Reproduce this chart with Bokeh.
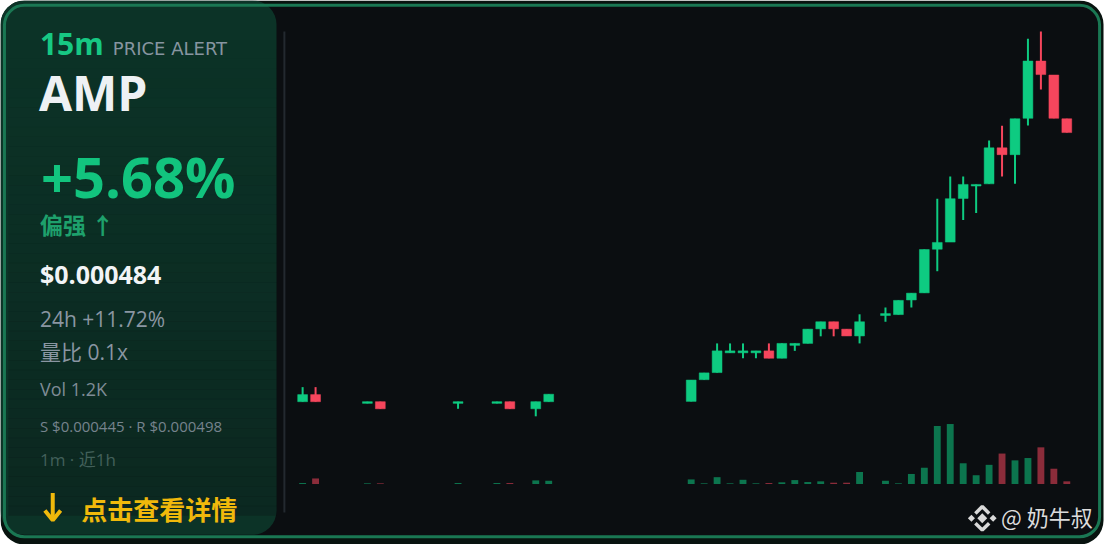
import numpy as np
from bokeh.plotting import figure
from bokeh.models import Range1d, Label, BoxAnnotation, ColumnDataSource
from bokeh.embed import file_html
from bokeh.resources import INLINE

# 1m candles of the last hour, slot = minute index (missing slots had no trades)
# prices in 1e-6 USD
slot = [0, 1, 5, 6, 12, 15, 16, 18, 19,
        30, 31, 32, 33, 34, 35, 36, 37, 38, 39, 40, 41, 42, 43,
        45, 46, 47, 48, 49, 50, 51, 52, 53, 54, 55, 56, 57, 58, 59]
opens = [446.88, 447.86, 446.65, 446.88, 446.65, 446.65, 446.88, 445.90, 446.88,
         446.92, 449.92, 450.90, 453.63, 453.63, 453.63, 453.90, 452.88, 454.66, 454.93,
         456.94, 457.92, 456.90, 455.96,
         458.78, 458.91, 460.93, 461.91, 467.94, 468.92, 474.96, 476.67, 476.97, 481.94,
         481.00, 486.02, 493.93, 492.00, 485.96]
highs = [448.89, 448.89, 446.88, 446.88, 446.88, 446.88, 446.88, 446.88, 447.91,
         449.87, 450.86, 454.93, 454.93, 454.93, 453.90, 454.93, 454.93, 454.93, 456.90,
         457.92, 457.92, 456.90, 458.95,
         459.89, 460.87, 461.87, 467.90, 474.92, 477.97, 477.97, 476.89, 482.97, 484.98,
         485.96, 497.02, 498.00, 492.00, 485.96]
lows = [446.88, 446.88, 446.65, 445.90, 445.90, 446.65, 445.90, 444.86, 446.88,
        446.92, 449.92, 450.90, 453.63, 452.88, 452.88, 452.88, 452.88, 453.90, 454.93,
        455.91, 455.91, 455.96, 454.93,
        457.92, 458.91, 459.89, 461.91, 464.90, 468.92, 471.97, 472.95, 476.97, 477.97,
        476.97, 485.02, 489.99, 486.02, 484.05]
closes = [447.86, 446.88, 446.88, 445.90, 446.88, 446.88, 445.90, 446.88, 447.91,
          449.87, 450.86, 453.90, 453.90, 453.90, 453.90, 452.88, 454.93, 454.93, 456.90,
          457.92, 456.94, 455.96, 457.92,
          459.05, 460.87, 461.87, 467.90, 468.88, 474.92, 476.89, 476.89, 481.94, 481.00,
          485.96, 493.93, 492.06, 486.02, 484.05]
volumes = [450, 2560, 300, 300, 450, 450, 450, 1660, 1490,
           2110, 300, 3150, 300, 1940, 300, 450, 770, 1800, 900, 1220, 590, 590, 5540,
           1490, 300, 4640, 7520, 26870, 27770, 9590, 4050, 8870, 14090, 10940, 12020,
           16970, 7070, 1220]

support = 445.0      # S $0.000445 -> bottom of price pane
resistance = 498.0   # R $0.000498 -> top of price pane

UP = "#0ecb81"
DOWN = "#f6465d"
LATIN = "'Open Sans', 'Noto Sans CJK SC'"
CJK = "'Noto Sans CJK SC'"

# layout is written in a 1120x560 design space mapped onto the figure
REF_W, REF_H = 1120, 560
X0, SLOT_PX = 306.5, 13.14          # x of slot 0, px per slot
Y_RES, Y_SUP = 32.0, 427.0          # y of resistance / support
VOL_BASE, VOL_PER_PX = 497.7, 450.0

p = figure(width=1104, height=544, x_range=Range1d(0, REF_W), y_range=Range1d(REF_H, 0),
           output_backend="svg", toolbar_location=None, x_axis_location=None,
           y_axis_location=None, min_border=0, outline_line_color=None,
           background_fill_color="white", border_fill_color="white")
p.xgrid.visible = False
p.ygrid.visible = False

ppx = (resistance - support) / (Y_SUP - Y_RES)
p.extra_x_ranges = {"slot": Range1d(-X0 / SLOT_PX, (REF_W - X0) / SLOT_PX)}
p.extra_y_ranges = {
    "price": Range1d(resistance - (REF_H - Y_RES) * ppx, resistance + Y_RES * ppx),
    "vol": Range1d(-(REF_H - VOL_BASE) * VOL_PER_PX, VOL_BASE * VOL_PER_PX),
}

# card
p.add_layout(BoxAnnotation(left=0, right=1119, top=0, bottom=560, border_radius=24,
                           fill_color="#08130f", fill_alpha=1, line_color=None, level="underlay"))
p.add_layout(BoxAnnotation(left=4, right=1115, top=5, bottom=552, border_radius=20,
                           fill_color="#0b0e11", fill_alpha=1, line_color=None, level="underlay"))
p.add_layout(BoxAnnotation(left=0, right=280, top=0, bottom=550, border_radius=24,
                           fill_color="#0d3a2b", fill_alpha=0.85, line_color=None, level="underlay"))
p.add_layout(BoxAnnotation(left=4, right=1115, top=5, bottom=552, border_radius=20,
                           fill_color=None, fill_alpha=0, line_color="#1a7753",
                           line_width=3, line_alpha=1, level="underlay"))
# darken the panel towards the bottom
band_top = np.linspace(30, 520, 50)
p.quad(left=8, right=280, top=band_top, bottom=band_top + 10.5, fill_color="#0b0e11",
       fill_alpha=np.linspace(0.0, 0.28, 50), line_color=None)
p.segment(x0=[288], y0=[32], x1=[288], y1=[527], line_color="#23292f", line_width=2)

# candles
src = ColumnDataSource(dict(
    slot=slot,
    high=highs,
    low=lows,
    top=np.maximum(opens, closes),
    bottom=np.minimum(opens, closes),
    vol=volumes,
    color=[UP if c >= o else DOWN for o, c in zip(opens, closes)],
))
p.vbar(x="slot", top="vol", bottom=0, width=0.53, fill_color="color", fill_alpha=0.55,
       line_color=None, source=src, x_range_name="slot", y_range_name="vol")
p.segment(x0="slot", y0="high", x1="slot", y1="low", line_color="color", line_width=2,
          source=src, x_range_name="slot", y_range_name="price")
p.vbar(x="slot", top="top", bottom="bottom", width=0.76, fill_color="color",
       line_color="color", line_width=0.5, source=src, x_range_name="slot", y_range_name="price")


def label(x, y, text, size, color, font=LATIN, bold=False):
    # y is the vertical centre of the glyphs
    p.add_layout(Label(x=x, y=y, text=text, text_font=font, text_font_size=size,
                       text_color=color, text_font_style="bold" if bold else "normal",
                       text_baseline="middle"))


label(40, 44, "15m", "30px", "#17c883", bold=True)
label(114, 49.5, "PRICE ALERT", "18px", "#8795a0", font="DejaVu Sans")
label(39, 95, "AMP", "48px", "#eef1f4", bold=True)
label(41, 181, "+5.68%", "56px", "#12c47e", bold=True)
label(40, 230, "偏强 ↑", "23px", "#1ea06c", font=CJK, bold=True)
label(40, 282, "$0.000484", "25px", "#f2f4f6", bold=True)
label(40, 328, "24h +11.72%", "21px", "#8a96a2")
label(40, 362, "量比 0.1x", "21px", "#8a96a2")
label(40, 400, "Vol 1.2K", "18px", "#7f8b96")
label(40, 438, "S $0.000445 · R $0.000498", "15px", "#76838d")
label(40, 472, "1m · 近1h", "17px", "#42605a")
label(82, 523, "点击查看详情", "26px", "#f0b90b", font=CJK, bold=True)
label(1015, 531, "@ 奶牛叔", "22px", "#dcdcdc", font=CJK)

# down arrow
p.segment(x0=[53], y0=[507], x1=[53], y1=[533], line_color="#f0b90b", line_width=4)
p.multi_line(xs=[[45, 53, 61]], ys=[[525, 535, 525]], line_color="#f0b90b", line_width=4)

# binance-style mark
p.rect(x=[996, 985, 1007], y=[533, 533, 533], width=[7, 5, 5], height=[7, 5, 5],
       angle=np.pi / 4, width_units="screen", height_units="screen",
       fill_color="#d9d9d9", line_color=None)
p.multi_line(xs=[[989, 996, 1003], [989, 996, 1003]], ys=[[528, 521, 528], [538, 545, 538]],
             line_color="#d9d9d9", line_width=3.5)

open("out.html", "w").write(file_html(p, INLINE))
